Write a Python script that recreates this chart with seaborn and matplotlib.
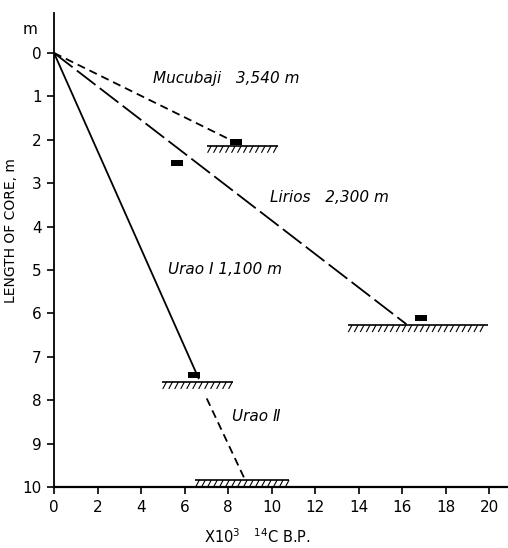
import numpy as np
import pandas as pd
import matplotlib
matplotlib.use("Agg")
import matplotlib.pyplot as plt
from matplotlib.collections import LineCollection
from matplotlib.path import Path
import seaborn as sns

# ---- data (x = 10^3 14C yr B.P., y = depth m) ----
mucubaji_x = [0.0, 8.1]
mucubaji_y = [0.0, 2.0]
lirios_x = [0.0, 16.2]
lirios_y = [0.0, 6.25]
uraoI_x = [0.0, 6.65]
uraoI_y = [0.0, 7.5]
uraoII_x = [7.02, 8.75]
uraoII_y = [7.96, 9.8]

# radiocarbon dates (black bars)
date_x = [8.37, 5.64, 16.86, 6.45]
date_y = [2.05, 2.54, 6.11, 7.42]

# core bottoms (x start, x end, depth)
base_x0 = [7.03, 13.5, 4.97, 6.48]
base_x1 = [10.3, 19.95, 8.23, 10.8]
base_y = [2.14, 6.27, 7.58, 9.84]

labels = ["Mucubaji   3,540 m", "Lirios   2,300 m", "Urao \u2160 1,100 m", "Urao \u2161"]
label_x = [4.55, 9.93, 5.24, 8.2]
label_y = [0.6, 3.34, 5.0, 8.38]

xticks = list(range(0, 21, 2))
yticks = list(range(0, 11))

sns.set_style("ticks")
plt.rcParams["font.family"] = ["DejaVu Sans"]
plt.rcParams["text.color"] = "black"
plt.rcParams["axes.labelcolor"] = "black"
plt.rcParams["xtick.color"] = "black"
plt.rcParams["ytick.color"] = "black"
plt.rcParams["axes.edgecolor"] = "black"

fig = plt.figure(figsize=(5.08, 5.48), dpi=100)
ax = fig.add_axes([54 / 508, 1 - 487 / 548, (508 - 54) / 508, (487 - 13) / 548])

lw = 1.3
sns.lineplot(x=mucubaji_x, y=mucubaji_y, ax=ax, color="black", lw=lw,
             linestyle=(0, (4.5, 2.8)))
sns.lineplot(x=lirios_x, y=lirios_y, ax=ax, color="black", lw=lw,
             linestyle=(0, (13, 3)))
sns.lineplot(x=uraoI_x, y=uraoI_y, ax=ax, color="black", lw=lw)
sns.lineplot(x=uraoII_x, y=uraoII_y, ax=ax, color="black", lw=lw,
             linestyle=(0, (4.5, 2.8)))

rect = Path([(-1, -0.5), (1, -0.5), (1, 0.5), (-1, 0.5), (-1, -0.5)],
            [Path.MOVETO, Path.LINETO, Path.LINETO, Path.LINETO, Path.CLOSEPOLY])
sns.scatterplot(x=date_x, y=date_y, ax=ax, marker=rect, s=80, color="black",
                edgecolor="black", linewidth=0, zorder=5)

# ground (base of core) hatched lines
segs_main = []
segs_hatch = []
for x0, x1, y in zip(base_x0, base_x1, base_y):
    segs_main.append([(x0, y), (x1, y)])
    for xi in np.arange(x0 + 0.2, x1 + 0.01, 0.275):
        segs_hatch.append([(xi, y), (xi - 0.17, y + 0.16)])
ax.add_collection(LineCollection(segs_main, colors="black", linewidths=1.2))
ax.add_collection(LineCollection(segs_hatch, colors="black", linewidths=0.8))

for t, x, y in zip(labels, label_x, label_y):
    ax.text(x, y, t, style="italic", fontsize=11, ha="left", va="center",
            color="black")

ax.set_xlim(0, 20.87)
ax.set_ylim(10, -0.92)
ax.set_xticks(xticks)
ax.set_yticks(yticks)
ax.tick_params(axis="both", labelsize=11, length=5, width=1.2, direction="out",
               pad=4)
for s in ["top", "right"]:
    ax.spines[s].set_visible(False)
ax.spines["left"].set_linewidth(1.3)
ax.spines["bottom"].set_linewidth(1.6)

ax.text(-0.75, -0.53, "m", fontsize=11, ha="right", va="center")

ax.set_ylabel("LENGTH OF CORE, m", fontsize=10)
ax.yaxis.set_label_coords(-0.079, 0.54)
ax.set_xlabel(r"X10$^3$   $^{14}$C B.P.", fontsize=10.5)
ax.xaxis.set_label_coords(0.449, -0.085)

fig.savefig("out.png", dpi=100)
